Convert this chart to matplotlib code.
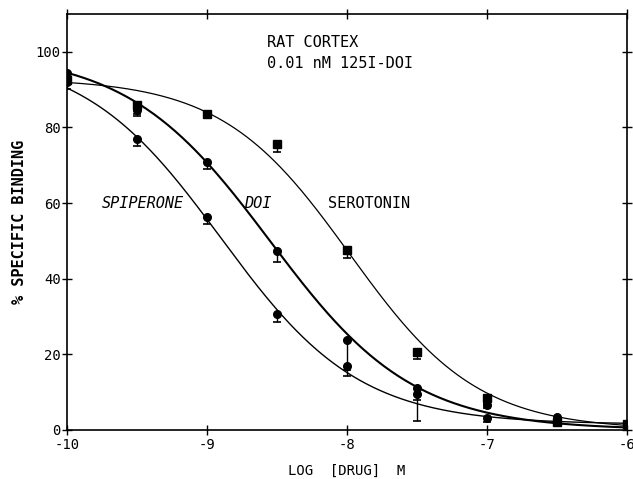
import numpy as np
import matplotlib
matplotlib.use("Agg")
import matplotlib.pyplot as plt

# ---- data ----
log_conc = [-10, -9.5, -9, -8.5, -8, -7.5, -7, -6.5, -6]

serotonin = [92.5, 86.0, 83.5, 75.5, 47.5, 20.5, 8.5, 2.0, 1.5]
serotonin_err = [1.0, 2.5, 1.0, 2.0, 2.0, 1.8, 1.5, 0.5, 0.3]

doi = [94.5, 84.5, 70.8, 47.2, 23.8, 11.0, 3.1, 3.5, 1.0]
doi_err = [1.0, 1.5, 1.8, 2.7, 8.0, 3.0, 1.0, 0.5, 0.3]

spiperone = [92.0, 77.0, 56.3, 30.8, 16.8, 9.5, 6.5, 2.5, 1.0]
spiperone_err = [1.8, 2.0, 1.8, 2.2, 2.4, 7.0, 0.8, 0.5, 0.3]

# fitted logistic curve parameters
curve_names = ["serotonin", "doi", "spiperone"]
curve_top = [93.0, 100.0, 100.0]
curve_bottom = [0.0, 0.0, 1.5]
curve_logic50 = [-7.98, -8.55, -8.90]
curve_hill = [0.95, 0.85, 0.88]
curve_lw = [0.9, 1.5, 1.0]

x_ticks = [-10, -9, -8, -7, -6]
y_ticks = [0, 20, 40, 60, 80, 100]

font = "DejaVu Sans Mono"
plt.rcParams["font.family"] = [font, "DejaVu Sans"]

fig = plt.figure(figsize=(6.33, 4.79), dpi=100)
ax = fig.add_axes([0.1058, 0.1023, 0.8847, 0.8685])

xs = np.linspace(-10, -6, 400)
for top, bot, c, h, lw in zip(curve_top, curve_bottom, curve_logic50, curve_hill, curve_lw):
    ax.plot(xs, bot + (top - bot) / (1 + 10 ** (h * (xs - c))), color="black", lw=lw, zorder=2)

series = [(serotonin, serotonin_err, "s"), (doi, doi_err, "o"), (spiperone, spiperone_err, "o")]
for vals, err, mk in series:
    v = np.array(vals)
    e = np.array(err)
    res = ax.errorbar(log_conc, v, yerr=[e, np.zeros_like(e)], fmt=mk, color="black",
                      ms=5.5, capsize=3, elinewidth=1.0, capthick=1.2, zorder=3)
    caps = res[1]
    if len(caps) > 1:
        caps[1].set_visible(False)

ax.set_xlim(-10, -6)
ax.set_ylim(0, 110)
ax.set_xticks(x_ticks)
ax.set_xticklabels([str(t) for t in x_ticks])
ax.set_yticks(y_ticks)

ax.tick_params(axis="x", which="both", direction="inout", length=7, width=1.0,
               labelsize=10, pad=2.5, top=True)
ax.tick_params(axis="y", which="both", direction="inout", length=7, width=1.0,
               labelsize=10, pad=1, right=True)
for lab in ax.get_xticklabels() + ax.get_yticklabels():
    lab.set_fontfamily(font)

for s in ax.spines.values():
    s.set_linewidth(1.2)

ax.set_xlabel("LOG  [DRUG]  M", fontsize=10, labelpad=8, fontfamily=font)
ax.set_ylabel("% SPECIFIC BINDING", fontsize=11, labelpad=6, fontfamily=font,
              fontweight="bold")

ax.text(-8.57, 102.5, "RAT CORTEX", fontsize=11, fontfamily=font, va="center", ha="left")
ax.text(-8.57, 97.0, "0.01 nM 125I-DOI", fontsize=11, fontfamily=font, va="center", ha="left")
ax.text(-9.46, 60, "SPIPERONE", fontsize=11, fontfamily=font, va="center", ha="center",
        style="italic")
ax.text(-8.64, 60, "DOI", fontsize=11, fontfamily=font, va="center", ha="center",
        style="italic")
ax.text(-7.84, 60, "SEROTONIN", fontsize=11, fontfamily=font, va="center", ha="center")

fig.savefig("out.png", dpi=100)
